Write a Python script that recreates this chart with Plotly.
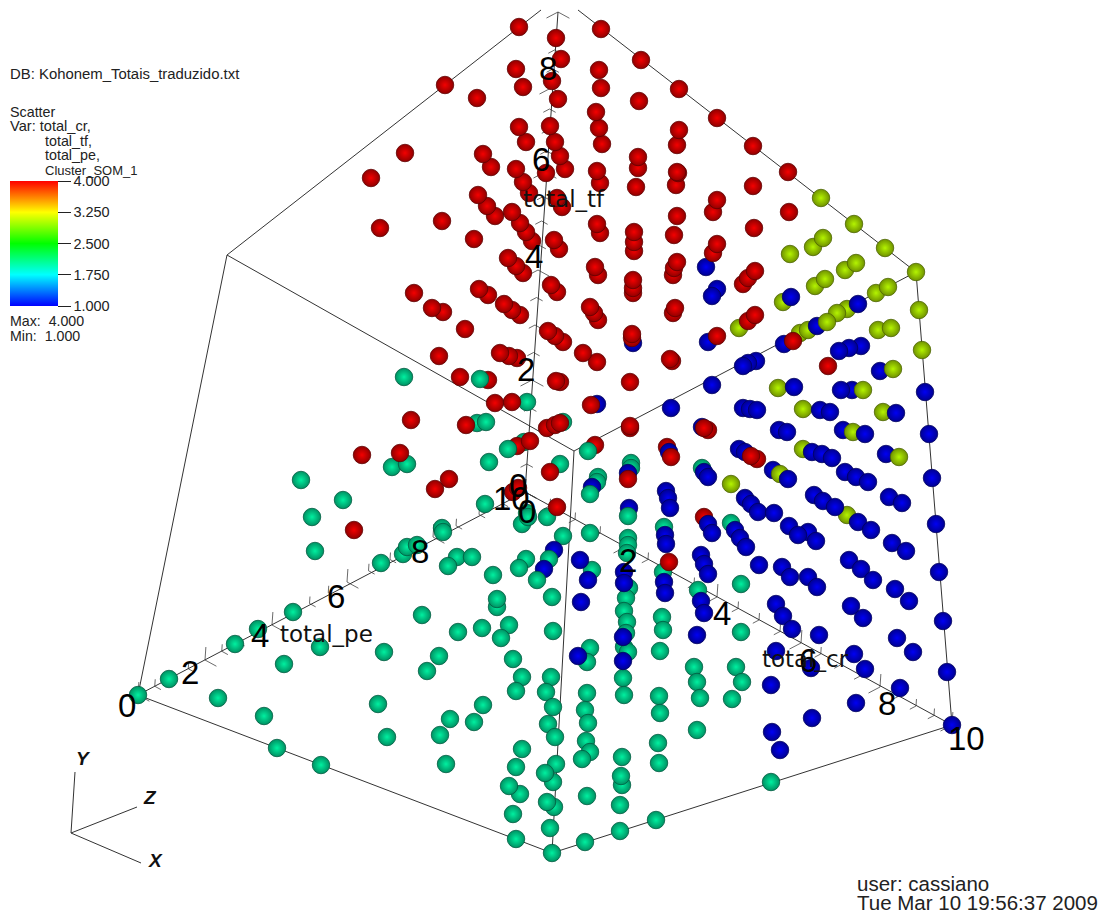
import numpy as np
import plotly.graph_objects as go

# Projected positions, one pair of lists per drawing layer.
teal_back_x = [404,527,477,486,563,524,631,631,392,407,489,560,598,597,485,527,547,301,343,312,315,381,403,407,417,293,442,443,522,528,563,590,702,731,664,628,628,627,526,519,457,472,448,493,592,663,629,698,741,626,624,627,626,624,628,623,497,497,552,422,662,663,458,482,509,501,553,660,590,587,439,513,427,522,551,694,697,736,742,741,138,169,235,258,218,264,277,321,284,320,384,378,387,516,546,587,624,659,660,700,732,483,553,585,450,474,548,588,697,440,555,586,658,590,522,582,622,659,446,516,556,553,545,622,621,520,509,587,554,547,620,513,550,656,620,516,585,552,771]
teal_back_y = [377,402,423,422,422,442,463,468,467,464,462,464,477,482,504,513,517,480,500,517,551,563,554,547,545,612,528,532,524,517,536,533,468,523,527,538,545,553,559,568,557,557,566,575,570,572,588,590,584,598,611,622,633,647,652,678,607,599,597,615,617,630,632,628,625,638,631,651,648,662,656,659,671,677,677,667,682,667,682,632,695,679,644,629,698,716,748,765,664,647,652,704,737,691,692,693,695,696,713,698,699,705,707,710,719,722,724,723,730,735,737,741,743,752,749,759,757,763,764,767,764,782,773,785,776,794,786,796,807,802,805,814,828,820,831,839,842,853,782]
blue_back_x = [554,592,629,628,597,633,843,773]
blue_back_y = [550,487,508,473,404,343,430,470]
lime_back_x = [821,854,813,823,885,790,916,845,856,815,825,876,888,919,783,847,837,800,808,739,878,891,922,778,803,883,853,803,780,731,847]
lime_back_y = [198,224,247,238,248,254,272,270,263,286,279,293,287,310,302,309,313,333,330,328,330,328,350,388,409,412,432,449,474,484,515]
red_back_x = [597,667,704,488,517,595]
red_back_y = [362,447,517,380,446,445]
teal_mid_x = [480,508,588,590,628,549]
teal_mid_y = [379,449,451,494,516,559]
blue_front_x = [706,717,712,791,858,817,708,784,861,849,839,756,748,743,880,712,794,852,841,925,671,743,750,757,820,830,896,702,929,779,787,865,669,739,745,812,822,832,886,932,704,708,788,845,856,868,666,668,670,745,751,758,774,814,823,835,858,871,889,902,936,708,712,735,740,746,789,808,798,816,892,906,939,665,666,701,704,708,664,665,759,782,790,808,817,849,861,873,895,909,701,704,776,783,792,851,863,943,697,819,897,913,776,854,811,865,947,771,900,856,812,772,952,780,544,580,588,624,624,581,623,623,578]
blue_front_y = [267,289,296,297,304,326,342,344,346,348,351,361,363,366,371,385,387,390,390,392,408,408,409,410,410,412,413,427,434,430,432,434,452,449,452,452,454,458,454,478,472,477,479,472,477,482,491,498,508,498,504,512,513,495,501,507,522,530,497,503,524,524,533,530,538,547,526,532,535,541,543,551,572,535,544,555,564,574,582,593,565,567,577,577,587,560,569,580,589,601,601,613,604,616,629,606,618,621,635,635,638,652,651,654,668,669,672,685,688,703,718,732,725,750,569,560,580,572,583,602,637,661,656]
lime_front_x = [827,893,863,899]
lime_front_y = [322,369,390,457]
red_front_x = [519,601,556,561,641,516,599,445,552,523,601,477,558,639,596,519,550,599,526,555,602,405,483,560,638,371,491,516,565,546,597,638,600,523,636,529,478,557,562,487,495,512,442,380,520,597,600,526,634,634,634,474,532,554,559,508,516,523,595,598,633,633,633,414,479,488,551,557,432,443,504,512,520,590,594,598,465,548,555,563,632,632,439,500,509,517,583,460,556,560,630,411,495,512,591,466,547,555,560,630,630,362,400,530,550,449,435,628,513,518,557,354,669,679,717,753,679,677,677,788,678,676,753,717,713,677,789,754,674,717,713,677,674,673,755,748,743,675,673,755,748,717,793,670,672,828,704,708,671,751,757]
red_front_y = [27,29,38,59,60,69,70,85,81,87,88,98,99,101,112,127,126,128,142,142,144,153,154,156,157,178,167,169,169,173,171,168,183,182,187,193,195,198,207,206,216,212,221,228,223,224,233,232,232,242,251,239,241,240,249,258,266,273,267,275,280,288,293,293,289,295,285,292,308,312,304,310,315,307,313,320,329,331,336,342,334,338,356,353,356,358,353,377,381,382,382,420,403,402,405,425,428,425,423,426,428,455,453,441,472,479,489,479,492,488,507,530,562,89,118,146,130,145,172,172,173,185,186,200,212,216,212,228,235,244,253,262,268,275,271,278,284,308,313,315,321,336,341,359,361,366,428,430,457,456,459]
teal_top_x = [537]
teal_top_y = [580]

BLUE, TEAL, LIME, RED = 1, 2, 3, 4
CLUSTER_TICKS = [1.0, 1.75, 2.5, 3.25, 4.0]

# Axis major tick positions on the page, for values 0,2,4,6,8,10.
AXIS_VALUES = [0, 2, 4, 6, 8, 10]
pe_x = [138, 205, 272, 347, 433, 525]
pe_y = [695, 660, 625, 582, 537, 492]
cr_x = [525, 625, 717, 801, 880, 952]
cr_y = [492, 547, 597, 643, 687, 725]
tf_x = [525, 532, 538, 545, 551, 558]
tf_y = [492, 380, 270, 172, 88, 12]

# Box edges and orientation triad, as page positions.
edges = [
    ((138, 695), (552, 853)), ((552, 853), (952, 725)), ((138, 695), (227, 255)),
    ((552, 853), (574, 451)), ((952, 725), (916, 272)), ((227, 255), (574, 451)),
    ((574, 451), (916, 272)), ((227, 255), (541, 10)), ((916, 272), (578, 10)),
]
triad = [((71, 833), (75, 772)), ((71, 833), (137, 807)), ((71, 833), (141, 863))]

labels_axes = [
    ("0", 127, 705), ("2", 190, 672), ("4", 260, 635), ("6", 336, 596), ("8", 420, 551), ("10", 511, 498),
    ("0", 527, 511), ("2", 628, 560), ("4", 722, 613), ("6", 808, 660), ("8", 887, 703), ("10", 966, 738),
    ("0", 518, 485), ("2", 526, 369), ("4", 534, 256), ("6", 541, 159), ("8", 548, 68),
]


def seglines(segs):
    xs, ys = [], []
    for a, b in segs:
        xs += [a[0], b[0], None]
        ys += [a[1], b[1], None]
    return xs, ys


def unit(a, b):
    v = np.array([b[0] - a[0], b[1] - a[1]], float)
    return v / np.hypot(*v)


vertex = (pe_x[-1], pe_y[-1])
d_pe = unit(vertex, (pe_x[0], pe_y[0]))
d_cr = unit(vertex, (cr_x[-1], cr_y[-1]))
d_tf = unit(vertex, (tf_x[-1], tf_y[-1]))


def ticks(ax, ay, arm1, arm2):
    segs = []
    for v in np.arange(0, 10.01, 0.5):
        px = float(np.interp(v, AXIS_VALUES, ax))
        py = float(np.interp(v, AXIS_VALUES, ay))
        ln = 13 if abs(v / 2 - round(v / 2)) < 1e-6 else 7
        for arm in (arm1, arm2):
            segs.append(((px, py), (px + arm[0] * ln, py + arm[1] * ln)))
    return segs


fig = go.Figure()

tick_segs = ticks(pe_x, pe_y, d_tf, d_cr) + ticks(cr_x, cr_y, d_tf, d_pe) + ticks(tf_x, tf_y, d_pe, d_cr)
tx, ty = seglines(tick_segs)
fig.add_trace(go.Scatter(x=tx, y=ty, mode="lines", line=dict(color="#444444", width=0.8), hoverinfo="skip", showlegend=False))
ax_segs = [((pe_x[0], pe_y[0]), vertex), (vertex, (cr_x[-1], cr_y[-1])), (vertex, (tf_x[-1], tf_y[-1]))]
ex, ey = seglines(edges + ax_segs + triad)
fig.add_trace(go.Scatter(x=ex, y=ey, mode="lines", line=dict(color="#333333", width=1), hoverinfo="skip", showlegend=False))

# Sphere shading: bright core (gradient colour), darker body (marker colour), dark rim (line).
CORE = {BLUE: "#0000f4", TEAL: "#00f0a0", LIME: "#b4f400", RED: "#f40000"}
BODY = {BLUE: "#000090", TEAL: "#009062", LIME: "#709200", RED: "#900000"}
RIM = {BLUE: "#000060", TEAL: "#005c40", LIME: "#4c6400", RED: "#600000"}
layers = [
    ("teal back", teal_back_x, teal_back_y, TEAL, 0),
    ("blue back", blue_back_x, blue_back_y, BLUE, 1),
    ("lime back", lime_back_x, lime_back_y, LIME, 0),
    ("red back", red_back_x, red_back_y, RED, -1),
    ("teal mid", teal_mid_x, teal_mid_y, TEAL, 0),
    ("blue front", blue_front_x, blue_front_y, BLUE, 1),
    ("lime front", lime_front_x, lime_front_y, LIME, 0),
    ("red front", red_front_x, red_front_y, RED, -1),
    ("teal top", teal_top_x, teal_top_y, TEAL, 0),
]
for name, xs, ys, val, order in layers:
    assert len(xs) == len(ys), name
    xs, ys = np.array(xs), np.array(ys)
    if order:
        idx = np.argsort(order * ys, kind="stable")
        xs, ys = xs[idx], ys[idx]
    fig.add_trace(go.Scatter(
        x=xs, y=ys, mode="markers", name=name, showlegend=False,
        marker=dict(size=17.5, color=BODY[val], line=dict(width=0.8, color=RIM[val]),
                    gradient=dict(type="radial", color=CORE[val])),
    ))

# Off-canvas trace that only carries the cluster colour bar.
fig.add_trace(go.Scatter(
    x=[-50, -50], y=[-50, -50], mode="markers", showlegend=False, hoverinfo="skip",
    marker=dict(size=1, color=[CLUSTER_TICKS[0], CLUSTER_TICKS[-1]], coloraxis="coloraxis"),
))

annotations = []


def note(text, x, y, size, family="Liberation Sans", anchor="left", color="#222222"):
    annotations.append(dict(text=text, x=x, y=y, xref="x", yref="y", showarrow=False, xanchor=anchor,
                            yanchor="middle", align="left", font=dict(size=size, family=family, color=color)))


for text, x, y in labels_axes:
    note(text, x, y, 33, "Liberation Sans", "center", "#000000")
note("total_tf", 564, 199, 23, "DejaVu Sans", "center", "#111111")
note("total_pe", 326, 634, 23, "DejaVu Sans", "center", "#111111")
note("total_cr", 805, 659, 23, "DejaVu Sans", "center", "#111111")
note("<b><i>Y</i></b>", 83, 758, 19, color="#111111", anchor="center")
note("<b><i>Z</i></b>", 150, 797, 19, color="#111111", anchor="center")
note("<b><i>X</i></b>", 155, 860, 19, color="#111111", anchor="center")
note("DB: Kohonem_Totais_traduzido.txt", 8, 74, 14.9)
note("Scatter", 8, 112, 14.3)
note("Var: total_cr,", 8, 126, 14.6)
note("total_tf,", 43, 141, 14.3)
note("total_pe,", 43, 155, 14.3)
note("Cluster_SOM_1", 43, 170, 13)
note("Max:  4.000", 8, 321, 14.2)
note("Min:  1.000", 8, 336, 14.2)
note("user: cassiano", 855, 883, 20.5)
note("Tue Mar 10 19:56:37 2009", 855, 902, 20.5)

fig.update_layout(
    width=1105, height=913, margin=dict(l=0, r=0, t=0, b=0),
    paper_bgcolor="white", plot_bgcolor="white", showlegend=False,
    xaxis=dict(range=[0, 1105], visible=False, fixedrange=True),
    yaxis=dict(range=[913, 0], visible=False, fixedrange=True),
    annotations=annotations,
    coloraxis=dict(
        cmin=1, cmax=4,
        colorscale=[[0, "#0000ff"], [0.25, "#00ffff"], [0.5, "#00ff00"], [0.75, "#ffff00"], [1, "#ff0000"]],
        colorbar=dict(
            x=10 / 1105, xanchor="left", y=1 - 181 / 913, yanchor="top", xpad=0, ypad=0,
            lenmode="pixels", len=125, thicknessmode="pixels", thickness=48,
            outlinewidth=0, tickvals=CLUSTER_TICKS, tickformat=".3f", ticks="outside", ticklen=13,
            tickcolor="#222222", tickfont=dict(size=14.5, family="Liberation Sans", color="#222222"),
        ),
    ),
)
fig.write_html("out.html", config={"displayModeBar": False}, post_script="document.body.style.margin='0';")
